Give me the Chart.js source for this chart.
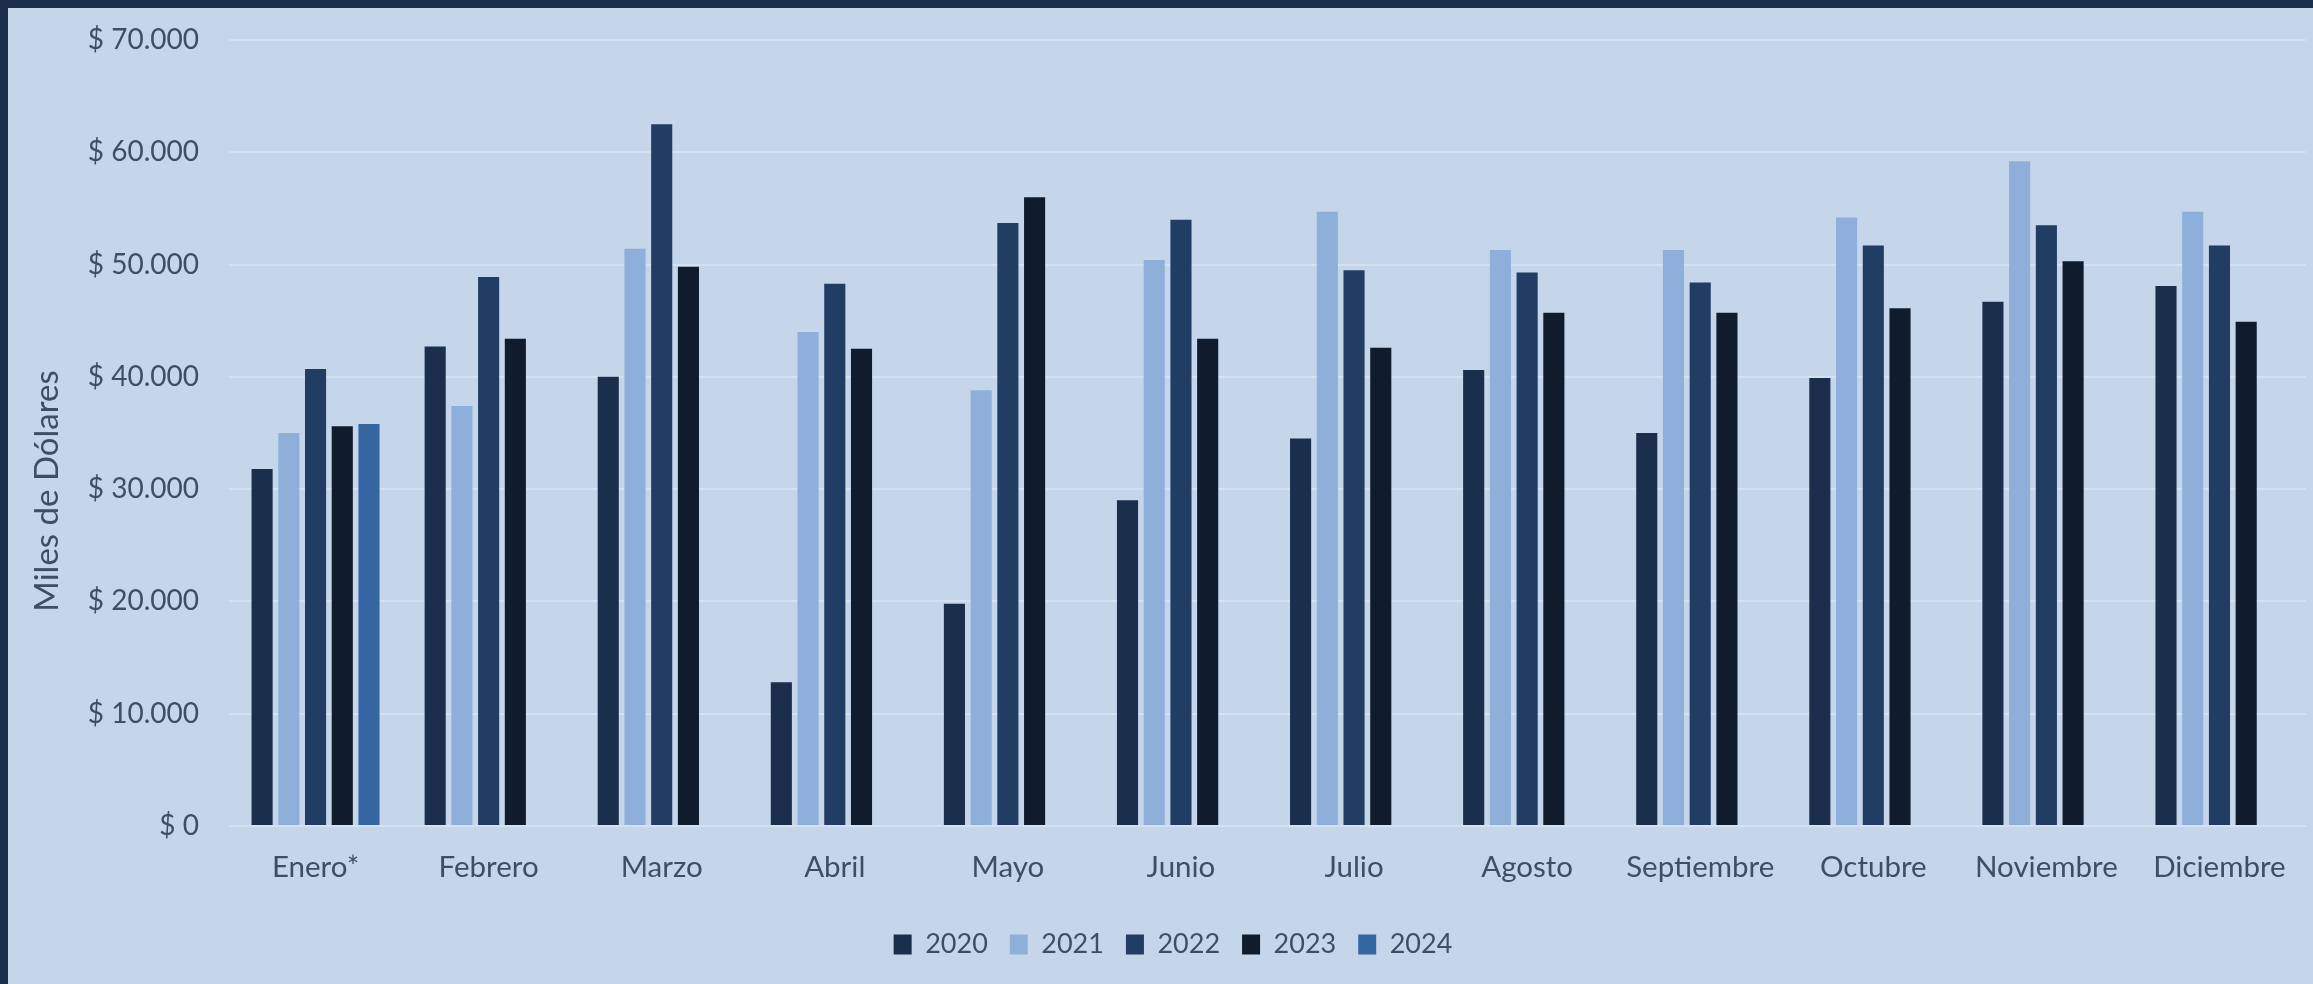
<!DOCTYPE html>
<html lang="es">
<head>
<meta charset="utf-8">
<script src="https://cdn.jsdelivr.net/npm/chart.js@4/dist/chart.umd.min.js"></script>
<style>
  html, body { margin: 0; padding: 0; background: #1b2e4b; }
  #wrap {
    position: absolute; left: 8px; top: 8px;
    width: 2305px; height: 976px; background: #c5d6eb;
  }
</style>
</head>
<body>
<div id="wrap"><canvas id="chart"></canvas></div>
<script>
  // Meses (Enero* = dato parcial 2024)
  const meses = ["Enero*", "Febrero", "Marzo", "Abril", "Mayo", "Junio",
    "Julio", "Agosto", "Septiembre", "Octubre", "Noviembre", "Diciembre"];

  // Miles de dólares por año
  const v2020 = [31800, 42700, 40000, 12800, 19800, 29000, 34500, 40600, 35000, 39900, 46700, 48100];
  const v2021 = [35000, 37400, 51400, 44000, 38800, 50400, 54700, 51300, 51300, 54200, 59200, 54700];
  const v2022 = [40700, 48900, 62500, 48300, 53700, 54000, 49500, 49300, 48400, 51700, 53500, 51700];
  const v2023 = [35600, 43400, 49800, 42500, 56000, 43400, 42600, 45700, 45700, 46100, 50300, 44900];
  const v2024 = [35800, null, null, null, null, null, null, null, null, null, null, null];

  const anios = ["2020", "2021", "2022", "2023", "2024"];
  const colores = ["#1b2e4c", "#8eafda", "#213d63", "#101c2c", "#3566a2"];

  const TEXTO = "#3b5163";
  const FUENTE = "Lato, 'Open Sans', sans-serif";

  const series = [v2020, v2021, v2022, v2023, v2024];
  const datasets = series.map((vals, i) => ({
    label: anios[i],
    data: vals,
    backgroundColor: colores[i],
    categoryPercentage: 0.772,
    barPercentage: 0.79,
  }));

  const formatoDolar = (v) => "$ " + v.toLocaleString("de-DE");

  // titulo del eje Y centrado sobre todo el gráfico, como en Excel
  const tituloEjeY = {
    id: "tituloEjeY",
    afterDraw(chart) {
      const ctx = chart.ctx;
      ctx.save();
      ctx.translate(39.5, 483);
      ctx.rotate(-Math.PI / 2);
      ctx.fillStyle = TEXTO;
      ctx.font = "33px " + FUENTE;
      ctx.textAlign = "center";
      ctx.textBaseline = "middle";
      ctx.fillText("Miles de Dólares", 0, 0);
      ctx.restore();
    },
  };

  new Chart(document.getElementById("chart"), {
    type: "bar",
    data: { labels: meses, datasets },
    plugins: [tituloEjeY],
    options: {
      responsive: true,
      maintainAspectRatio: false,
      animation: false,
      layout: {
        autoPadding: false,
        padding: { top: 32, right: 7, bottom: 16, left: 32 },
      },
      plugins: {
        legend: {
          position: "bottom",
          labels: {
            color: TEXTO,
            font: { family: FUENTE, size: 27 },
            boxWidth: 18,
            boxHeight: 20,
            padding: 22,
          },
        },
        tooltip: { enabled: false },
      },
      scales: {
        x: {
          grid: { display: false },
          border: { display: false },
          ticks: {
            color: TEXTO,
            font: { family: FUENTE, size: 29.5 },
            padding: 16,
            maxRotation: 0,
          },
          afterFit: (scale) => { scale.height = 83; },
        },
        y: {
          min: 0,
          max: 70000,
          border: { display: false },
          // marcas invisibles para separar las etiquetas sin inflar el margen superior
          grid: { color: "#d5e1f0", lineWidth: 2, tickLength: 16, tickColor: "transparent" },
          ticks: {
            stepSize: 10000,
            color: TEXTO,
            font: { family: FUENTE, size: 28 },
            padding: 14,
            callback: formatoDolar,
          },
          afterFit: (scale) => { scale.width = 189; },
        },
      },
    },
  });
</script>
</body>
</html>
